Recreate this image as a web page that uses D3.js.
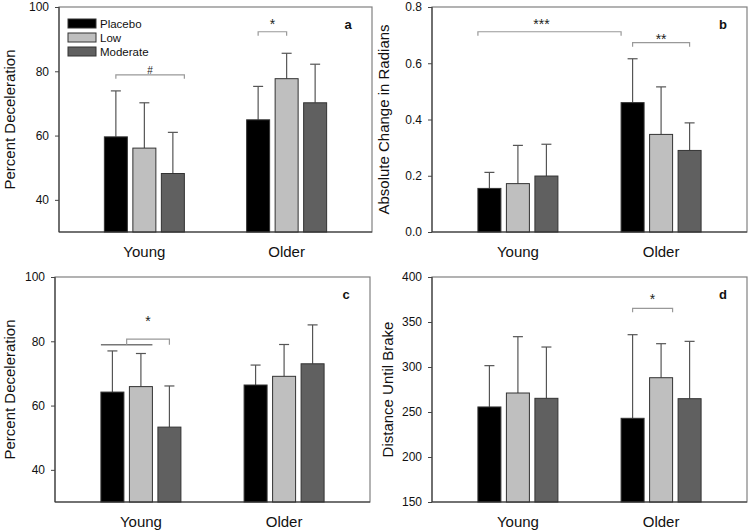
<!DOCTYPE html>
<html><head><meta charset="utf-8">
<script src="https://cdn.jsdelivr.net/npm/d3@7"></script>
<style>body{margin:0;background:#fff}svg{display:block}</style>
</head><body>
<svg id="chart" width="750" height="531"></svg>
<script>
// ---------- data ----------
const groups = ["Young", "Older"];
const seriesNames = ["Placebo", "Low", "Moderate"];

// panel a: Percent Deceleration
const meanA = [[59.6, 56.1, 48.2], [64.9, 77.7, 70.2]];
const sdA   = [[14.3, 14.1, 12.8], [10.4, 7.9, 12.0]];
const ticksA = [40, 60, 80, 100];
// panel b: Absolute Change in Radians
const meanB = [[0.155, 0.172, 0.199], [0.46, 0.347, 0.29]];
const sdB   = [[0.057, 0.136, 0.113], [0.156, 0.169, 0.098]];
const ticksB = [0, 0.2, 0.4, 0.6, 0.8];
// panel c: Percent Deceleration
const meanC = [[64.2, 65.9, 53.3], [66.4, 69.1, 73.0]];
const sdC   = [[12.8, 10.3, 12.8], [6.2, 9.9, 12.1]];
const ticksC = [40, 60, 80, 100];
// panel d: Distance Until Brake
const meanD = [[255.6, 271.1, 265.2], [243.0, 288.1, 264.8]];
const sdD   = [[45.9, 62.6, 57.0], [92.9, 37.8, 63.7]];
const ticksD = [150, 200, 250, 300, 350, 400];

// significance annotations (data units)
const bracketsA = [
  {from: ["Young", "Placebo", "c"], to: ["Young", "Moderate", "r"], y: 78.9, labelY: 79.2, label: "#"},
  {from: ["Older", "Placebo", "c"], to: ["Older", "Low", "c"], y: 92.3, labelY: 93.3, label: "*"}
];
const bracketsB = [
  {from: ["Young", "Placebo", "l"], to: ["Older", "Placebo", "l"], y: 0.712, labelY: 0.723, label: "***"},
  {from: ["Older", "Placebo", "c"], to: ["Older", "Moderate", "c"], y: 0.673, labelY: 0.669, label: "**"}
];
const bracketsC = [
  {span: [["Young", "Placebo", "l"], ["Young", "Low", "r"]], spanY: 78.9,
   to: ["Young", "Moderate", "c"], y: 80.7, labelY: 84.8, label: "*"}
];
const bracketsD = [
  {from: ["Older", "Placebo", "c"], to: ["Older", "Low", "r"], y: 365.2, labelY: 370, label: "*"}
];

// ---------- drawing ----------
const colors = {Placebo: "#000000", Low: "#bfbfbf", Moderate: "#606060"};
const FONT = "'Liberation Sans', Arial, Helvetica, sans-serif";
const svg = d3.select("#chart").style("font-family", FONT);

const panels = [
  {key: "a", x0: 59, x1: 372, y0: 7, y1: 232, domain: [30, 100], ticks: ticksA, fmt: d3.format("d"),
   title: "Percent Deceleration", titleX: 15, means: meanA, sds: sdA, brackets: bracketsA, legend: true},
  {key: "b", x0: 432, x1: 747, y0: 7, y1: 232, domain: [0, 0.8], ticks: ticksB, fmt: d3.format(".1f"),
   title: "Absolute Change in Radians", titleX: 389, means: meanB, sds: sdB, brackets: bracketsB},
  {key: "c", x0: 55, x1: 370, y0: 277, y1: 502, domain: [30, 100], ticks: ticksC, fmt: d3.format("d"),
   title: "Percent Deceleration", titleX: 15, means: meanC, sds: sdC, brackets: bracketsC},
  {key: "d", x0: 432, x1: 747, y0: 277, y1: 502, domain: [150, 400], ticks: ticksD, fmt: d3.format("d"),
   title: "Distance Until Brake", titleX: 393, means: meanD, sds: sdD, brackets: bracketsD}
];

panels.forEach(p => {
  const g = svg.append("g");
  const y = d3.scaleLinear().domain(p.domain).range([p.y1, p.y0]);
  const xg = d3.scalePoint().domain(groups).range([p.x0, p.x1]).padding(0.6);
  const xs = d3.scaleBand().domain(seriesNames).range([-42.75, 42.75]).paddingInner(0.193).paddingOuter(0.0965);
  const bw = xs.bandwidth();
  const ax = (a) => {
    const left = xg(a[0]) + xs(a[1]);
    return a[2] === "l" ? left : a[2] === "r" ? left + bw : left + bw / 2;
  };

  // frame
  g.append("rect").attr("x", p.x0).attr("y", p.y0)
    .attr("width", p.x1 - p.x0).attr("height", p.y1 - p.y0)
    .attr("fill", "none").attr("stroke", "#808080").attr("stroke-width", 1.2);

  // bars
  groups.forEach((grp, gi) => {
    seriesNames.forEach((s, si) => {
      const m = p.means[gi][si], sd = p.sds[gi][si];
      const bx = xg(grp) + xs(s), cx = bx + bw / 2;
      g.append("line").attr("x1", cx).attr("x2", cx).attr("y1", y(m)).attr("y2", y(m + sd))
        .attr("stroke", "#555").attr("stroke-width", 1.2);
      g.append("line").attr("x1", cx - 5).attr("x2", cx + 5).attr("y1", y(m + sd)).attr("y2", y(m + sd))
        .attr("stroke", "#555").attr("stroke-width", 1.2);
      g.append("rect").attr("x", bx).attr("y", y(m)).attr("width", bw).attr("height", p.y1 - y(m))
        .attr("fill", colors[s]).attr("stroke", "#333").attr("stroke-width", 1);
    });
  });

  // left axis
  const axis = g.append("g").attr("transform", `translate(${p.x0},0)`)
    .call(d3.axisLeft(y).tickValues(p.ticks).tickFormat(p.fmt).tickSize(4).tickSizeOuter(0).tickPadding(6));
  axis.select(".domain").attr("stroke", "#444").attr("stroke-width", 1.2)
    .attr("d", `M0,${p.y0}V${p.y1}`);
  axis.selectAll(".tick line").attr("stroke", "#444");
  axis.selectAll(".tick text").attr("fill", "#111").style("font-size", "12px").style("font-family", FONT);
  // bottom axis line
  g.append("line").attr("x1", p.x0).attr("x2", p.x1).attr("y1", p.y1).attr("y2", p.y1)
    .attr("stroke", "#333").attr("stroke-width", 1.2);

  // category labels
  groups.forEach(grp => {
    g.append("text").attr("x", xg(grp)).attr("y", p.y1 + 25).attr("text-anchor", "middle")
      .style("font-size", "15px").attr("fill", "#111").text(grp);
  });

  // y title
  g.append("text").attr("transform", `translate(${p.titleX},${(p.y0 + p.y1) / 2}) rotate(-90)`)
    .attr("text-anchor", "middle").style("font-size", "15px").attr("fill", "#111").text(p.title);

  // panel letter
  g.append("text").attr("x", p.x1 - 24).attr("y", p.y0 + 22).attr("text-anchor", "middle")
    .style("font-size", "13px").style("font-weight", "bold").attr("fill", "#111").text(p.key);

  // brackets
  const bc = "#999";
  p.brackets.forEach(b => {
    let xa, xb, ya = y(b.y), yl, yr;
    if (b.span) {
      const s1 = ax(b.span[0]), s2 = ax(b.span[1]), sy = y(b.spanY);
      g.append("line").attr("x1", s1).attr("x2", s2).attr("y1", sy).attr("y2", sy)
        .attr("stroke", "#777").attr("stroke-width", 1.6);
      xa = (s1 + s2) / 2; xb = ax(b.to); yl = sy; yr = sy;
    } else {
      xa = ax(b.from); xb = ax(b.to); yl = ya + 4; yr = ya + 4;
    }
    g.append("path").attr("d", `M${xa},${yl}V${ya}H${xb}V${yr}`)
      .attr("fill", "none").attr("stroke", bc).attr("stroke-width", 1.2);
    const isHash = b.label === "#";
    g.append("text").attr("x", (xa + xb) / 2 - (b.label.length > 2 ? 8 : 0)).attr("y", y(b.labelY))
      .attr("text-anchor", "middle").style("font-size", isHash ? "10px" : "14px")
      .attr("fill", "#222").text(b.label);
  });

  // legend
  if (p.legend) {
    seriesNames.forEach((s, i) => {
      const ly = p.y0 + 12 + i * 14;
      g.append("rect").attr("x", p.x0 + 9).attr("y", ly).attr("width", 28).attr("height", 9)
        .attr("fill", colors[s]).attr("stroke", "#333").attr("stroke-width", 1);
      g.append("text").attr("x", p.x0 + 41).attr("y", ly + 9).style("font-size", "11.5px")
        .attr("fill", "#111").text(s);
    });
  }
});
</script>
</body></html>
